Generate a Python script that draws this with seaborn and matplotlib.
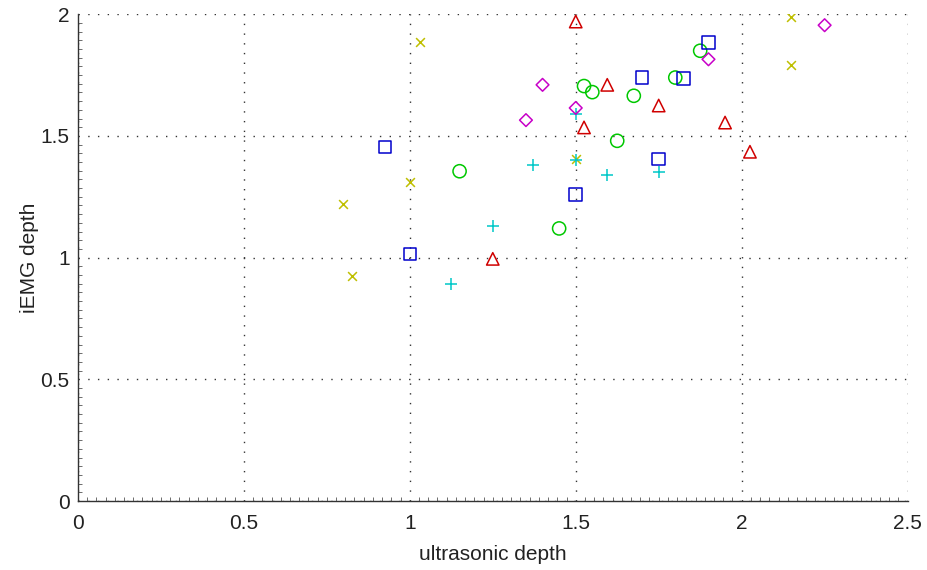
import pandas as pd
import numpy as np
import seaborn as sns
import matplotlib.pyplot as plt
from matplotlib.ticker import MultipleLocator

# values, one small list per marker group
yellow_x = [0.825, 0.80, 1.00, 1.03, 1.50, 2.15, 2.15]
yellow_y = [0.925, 1.22, 1.31, 1.885, 1.405, 1.99, 1.79]

cyan_x = [1.125, 1.25, 1.37, 1.50, 1.50, 1.595, 1.75]
cyan_y = [0.89, 1.13, 1.38, 1.59, 1.40, 1.34, 1.35]

red_x = [1.50, 1.595, 1.525, 1.75, 1.95, 2.025, 1.25]
red_y = [1.97, 1.71, 1.535, 1.625, 1.555, 1.435, 0.995]

green_x = [1.15, 1.45, 1.525, 1.55, 1.625, 1.675, 1.80, 1.875]
green_y = [1.355, 1.12, 1.705, 1.68, 1.48, 1.665, 1.74, 1.85]

blue_x = [0.925, 1.00, 1.50, 1.70, 1.75, 1.825, 1.90]
blue_y = [1.455, 1.015, 1.26, 1.74, 1.405, 1.735, 1.885]

magenta_x = [1.35, 1.40, 1.50, 1.90, 2.25]
magenta_y = [1.565, 1.71, 1.615, 1.815, 1.955]

groups = [
    ("y", yellow_x, yellow_y, "#bfbf00", "x", 40),
    ("c", cyan_x, cyan_y, "#00c8c8", "+", 80),
    ("r", red_x, red_y, "#d00000", "^", 80),
    ("g", green_x, green_y, "#00c800", "o", 90),
    ("b", blue_x, blue_y, "#0000cc", "s", 82),
    ("m", magenta_x, magenta_y, "#c800c8", "D", 42),
]

sns.set_style("white")
plt.rcParams['font.family'] = ['Liberation Sans', 'DejaVu Sans']

fig = plt.figure(figsize=(9.28, 5.70), dpi=100)
ax = fig.add_axes([0.084, 0.121, 0.894, 0.854])

for name, xs, ys, col, mk, size in groups:
    df = pd.DataFrame({"x": xs, "y": ys})
    if mk in ("x", "+"):
        sns.scatterplot(data=df, x="x", y="y", ax=ax, marker=mk, s=size,
                        color=col, linewidth=1.1, zorder=3)
    else:
        sns.scatterplot(data=df, x="x", y="y", ax=ax, marker=mk, s=size,
                        facecolor="none", edgecolor=col, linewidth=1.1, zorder=3)

ax.set_xlim(0, 2.5)
ax.set_ylim(0, 2)
ax.set_xticks([0, 0.5, 1, 1.5, 2, 2.5])
ax.set_xticklabels(["0", "0.5", "1", "1.5", "2", "2.5"])
ax.set_yticks([0, 0.5, 1, 1.5, 2])
ax.set_yticklabels(["0", "0.5", "1", "1.5", "2"])
ax.xaxis.set_minor_locator(MultipleLocator(0.5 / 18))
ax.yaxis.set_minor_locator(MultipleLocator(0.5 / 14))
ax.tick_params(which="major", direction="in", length=6, width=0.8,
               labelsize=15, colors="#222222", pad=9)
ax.tick_params(which="minor", direction="in", length=3, width=0.6,
               colors="#555555", bottom=True, left=True)
ax.tick_params(axis="y", pad=6)

ax.grid(True, which="major", color="#333333", linestyle=(0, (1, 6)), linewidth=1.0)
ax.set_axisbelow(True)

for side in ["top", "right"]:
    ax.spines[side].set_visible(False)
for side in ["left", "bottom"]:
    ax.spines[side].set_color("#333333")
    ax.spines[side].set_linewidth(1.0)

ax.set_xlabel("ultrasonic depth", fontsize=15, color="#222222", labelpad=9)
ax.set_ylabel("iEMG depth", fontsize=15, color="#222222", labelpad=1)

fig.savefig("out.png", dpi=100, facecolor="white")
